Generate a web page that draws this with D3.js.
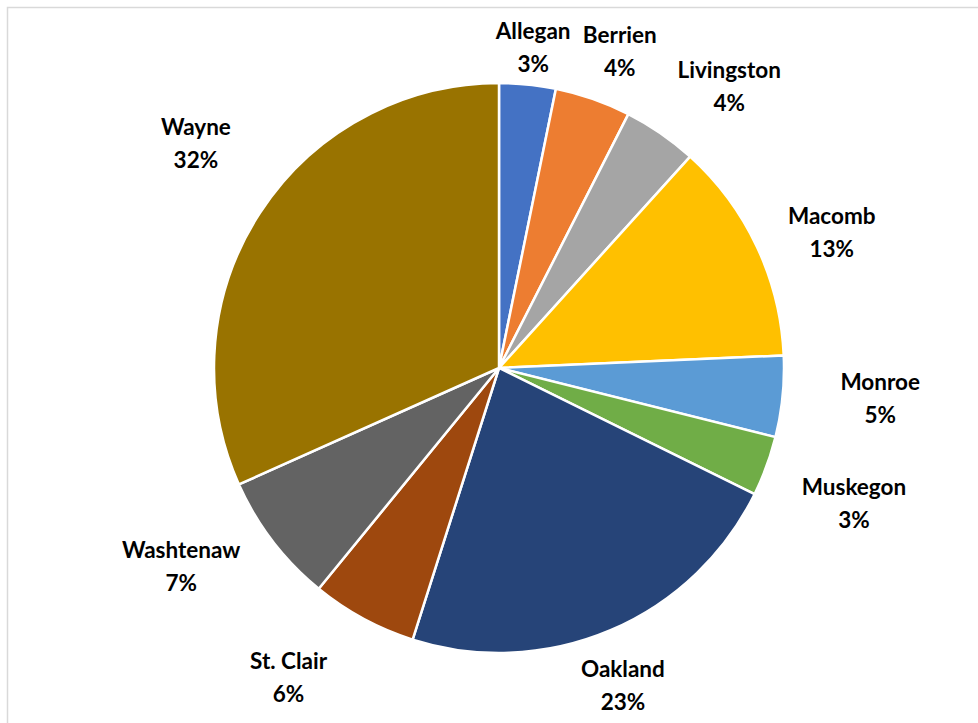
<!DOCTYPE html>
<html lang="en">
<head>
    <meta charset="UTF-8">
    <title>Pie</title>
    <script src="https://d3js.org/d3.v7.min.js"></script>
    <style>
        body { margin: 0; background: #fff; }
        text { font-family: Lato, "Open Sans", sans-serif; font-weight: bold; font-size: 22.5px; fill: #000; }
    </style>
</head>
<body>
    <div id="chart"></div>
    <script>
        var counties = ["Allegan", "Berrien", "Livingston", "Macomb", "Monroe", "Muskegon", "Oakland", "St. Clair", "Washtenaw", "Wayne"];
        var shares = [3.2, 4.3, 4.2, 12.6, 4.6, 3.4, 22.6, 6.0, 7.4, 31.7];
        var colors = ["#4472C4", "#ED7D31", "#A5A5A5", "#FFC000", "#5B9BD5", "#70AD47", "#264478", "#9E480E", "#636363", "#997300"];
        // hand nudges for the label boxes (Excel moves them around a bit)
        var labelNudge = [[-2, 37], [2, 23], [26, 14], [7, 17], [23, -6], [17, 11], [-17, -14], [-39, -8], [-32, -21], [-1, -29]];

        var width = 978, height = 723;
        var cx = 499, cy = 368, radius = 285, labelRadius = 360;

        var data = counties.map(function(c, i) { return { name: c, value: shares[i], i: i }; });
        var total = d3.sum(shares);
        var pct = d3.format(".0%");

        var svg = d3.select("#chart").append("svg")
            .attr("width", width)
            .attr("height", height);

        svg.append("rect")
            .attr("x", 7.5).attr("y", 7.5)
            .attr("width", 1000).attr("height", 1000)
            .attr("fill", "none")
            .attr("stroke", "#d9d9d9")
            .attr("stroke-width", 1.5);

        var pie = d3.pie().sort(null).value(function(d) { return d.value; });
        var arc = d3.arc().innerRadius(0).outerRadius(radius);

        var g = svg.append("g").attr("transform", "translate(" + cx + "," + cy + ")");
        var arcs = pie(data);

        g.selectAll("path")
            .data(arcs)
            .enter().append("path")
            .attr("d", arc)
            .attr("fill", function(d) { return colors[d.data.i]; })
            .attr("stroke", "#fff")
            .attr("stroke-width", 2.5)
            .attr("stroke-linejoin", "round");

        var labels = g.selectAll("text")
            .data(arcs)
            .enter().append("text")
            .attr("text-anchor", "middle")
            .attr("transform", function(d) {
                var a = (d.startAngle + d.endAngle) / 2;
                var n = labelNudge[d.data.i];
                var x = Math.sin(a) * labelRadius + n[0];
                var y = -Math.cos(a) * labelRadius + n[1];
                return "translate(" + x + "," + y + ")";
            });

        labels.append("tspan")
            .attr("x", 0).attr("y", -8)
            .text(function(d) { return d.data.name; });
        labels.append("tspan")
            .attr("x", 0).attr("y", 25)
            .text(function(d) { return pct(d.data.value / total); });
    </script>
</body>
</html>
